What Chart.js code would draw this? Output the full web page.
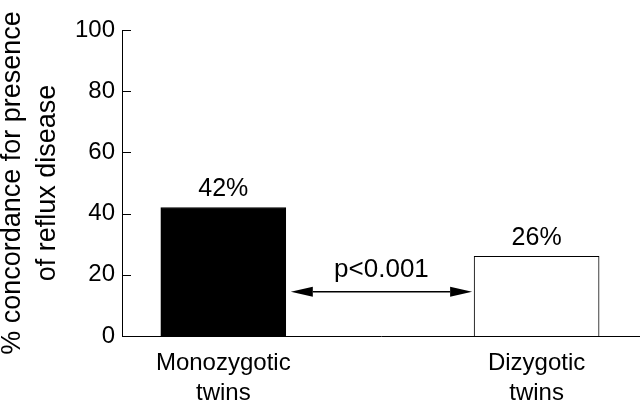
<!DOCTYPE html>
<html>
<head>
<meta charset="utf-8">
<script src="https://cdn.jsdelivr.net/npm/chart.js@4/dist/chart.umd.min.js"></script>
<style>
  html, body { margin: 0; padding: 0; background: #fff; }
  #wrap { width: 640px; height: 404px; }
</style>
</head>
<body>
<div id="wrap"><canvas id="c" width="640" height="404"></canvas></div>
<script>
// ---- data ----
const categories = [['Monozygotic', 'twins'], ['Dizygotic', 'twins']];
const categoryPositions = [1, 4];
const concordance = [42, 26];
const valueLabels = ['42%', '26%'];
const yTicks = [0, 20, 40, 60, 80, 100];
const pValueText = 'p<0.001';
const arrowLevel = 14.5;
const yTitle = ['% concordance for presence', 'of reflux disease'];

const FONT = "'Liberation Sans', Arial, sans-serif";

const overlay = {
  id: 'overlay',
  afterDatasetsDraw(chart) {
    const ctx = chart.ctx;
    const ys = chart.scales.y;
    const area = chart.chartArea;
    const bars = chart.getDatasetMeta(0).data;
    ctx.save();
    // inward ticks on y axis
    ctx.strokeStyle = '#000';
    ctx.lineWidth = 1;
    ys.ticks.forEach(t => {
      const py = Math.round(ys.getPixelForValue(t.value)) + 0.5;
      ctx.beginPath();
      ctx.moveTo(area.left, py);
      ctx.lineTo(area.left + 9, py);
      ctx.stroke();
    });
    // value labels
    ctx.fillStyle = '#000';
    ctx.font = '25px ' + FONT;
    ctx.textAlign = 'center';
    ctx.textBaseline = 'alphabetic';
    bars.forEach((b, i) => {
      ctx.fillText(valueLabels[i], b.x, b.y - 11);
    });
    // significance arrow
    const x1 = bars[0].x + bars[0].width / 2 + 5;
    const x2 = bars[1].x - bars[1].width / 2 - 2;
    const ay = ys.getPixelForValue(arrowLevel);
    const head = 22, half = 5;
    ctx.lineWidth = 1.5;
    ctx.beginPath();
    ctx.moveTo(x1 + head, ay);
    ctx.lineTo(x2 - head, ay);
    ctx.stroke();
    ctx.beginPath();
    ctx.moveTo(x1, ay);
    ctx.lineTo(x1 + head, ay - half);
    ctx.lineTo(x1 + head, ay + half);
    ctx.closePath();
    ctx.fill();
    ctx.beginPath();
    ctx.moveTo(x2, ay);
    ctx.lineTo(x2 - head, ay - half);
    ctx.lineTo(x2 - head, ay + half);
    ctx.closePath();
    ctx.fill();
    ctx.font = '26px ' + FONT;
    ctx.fillText(pValueText, (x1 + x2) / 2, ay - 15);
    ctx.restore();
  }
};

new Chart(document.getElementById('c'), {
  type: 'bar',
  data: {
    datasets: [{
      data: concordance.map((v, i) => ({ x: categoryPositions[i], y: v })),
      backgroundColor: ['#000', '#fff'],
      borderColor: '#000',
      borderWidth: 1,
      barThickness: 125
    }]
  },
  options: {
    responsive: false,
    animation: false,
    devicePixelRatio: 1,
    layout: { padding: { top: 30, right: 0, left: 0, bottom: 0 } },
    plugins: { legend: { display: false }, tooltip: { enabled: false } },
    scales: {
      x: {
        type: 'linear',
        offset: false,
        min: 0.03,
        max: 4.99,
        afterFit(s) { s.height = 68; },
        afterBuildTicks(s) { s.ticks = categoryPositions.map(v => ({ value: v })); },
        grid: { display: false, drawTicks: false },
        border: { display: true, color: '#000', width: 1 },
        ticks: {
          color: '#000',
          font: { family: FONT, size: 24, lineHeight: 1.25 },
          padding: 12,
          maxRotation: 0,
          autoSkip: false,
          callback(v) {
            const i = categoryPositions.indexOf(v);
            return i >= 0 ? categories[i] : '';
          }
        }
      },
      y: {
        min: 0,
        max: 100,
        afterFit(s) { s.width = 122; },
        afterBuildTicks(s) { s.ticks = yTicks.map(v => ({ value: v })); },
        grid: { display: false, drawTicks: false },
        border: { display: true, color: '#000', width: 1 },
        ticks: {
          color: '#000',
          font: { family: FONT, size: 24 },
          padding: 7
        },
        title: {
          display: true,
          text: yTitle,
          color: '#000',
          font: { family: FONT, size: 27, lineHeight: 1.3 },
          padding: { top: -5, bottom: 0 }
        }
      }
    }
  },
  plugins: [overlay]
});
</script>
</body>
</html>
